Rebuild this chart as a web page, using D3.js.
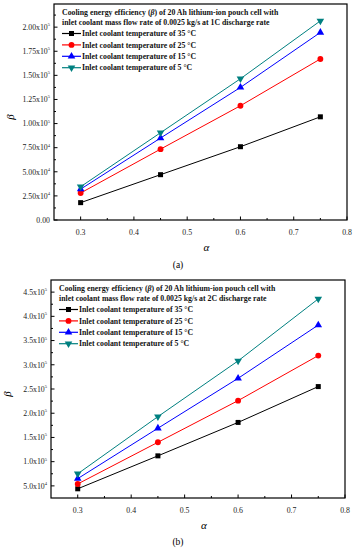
<!DOCTYPE html>
<html>
<head>
<meta charset="utf-8">
<script src="https://d3js.org/d3.v7.min.js"></script>
<style>
  body { margin: 0; background: #fff; }
  svg { display: block; font-family: "Liberation Serif", "DejaVu Serif", serif; }
  .tick-label { font-size: 7.8px; fill: #222; }
  .legend-text { font-size: 7.8px; font-weight: bold; fill: #111; }
</style>
</head>
<body>
<svg id="chart" width="357" height="550"></svg>
<script>
// x values (alpha)
var alpha = [0.3, 0.45, 0.6, 0.75];
var temps = [35, 25, 15, 5];
var colors = ["#000000", "#ff0000", "#0000ff", "#008080"];
var symbols = [d3.symbolSquare, d3.symbolCircle, d3.symbolTriangle, d3.symbolTriangle];

// panel (a) 1C discharge rate
var beta1C_T35 = [18000, 47000, 76000, 107000];
var beta1C_T25 = [28000, 73500, 118500, 167000];
var beta1C_T15 = [32000, 85000, 137500, 194500];
var beta1C_T5 = [34500, 90500, 146500, 206500];

// panel (b) 2C discharge rate
var beta2C_T35 = [44000, 112000, 181000, 255000];
var beta2C_T25 = [54000, 140000, 226000, 319000];
var beta2C_T15 = [65000, 169000, 272000, 382000];
var beta2C_T5 = [75000, 193000, 308000, 436000];

var svg = d3.select("#chart");

function supFormat(v, digits) {
    if (v === 0) return { m: (0).toFixed(digits), e: null };
    var e = Math.floor(Math.log10(v) + 1e-9);
    var m = v / Math.pow(10, e);
    return { m: m.toFixed(digits) + "x10", e: e };
}

function markerSize(k) { return k === 1 ? 27 : 25; }

function drawPanel(p) {
    var g = svg.append("g");
    var x = d3.scaleLinear().domain([0.25, 0.8]).range([p.left, p.right]);
    var y = d3.scaleLinear().domain(p.yDomain).range([p.bottom, p.top]);

    // x ticks (inward)
    var xMajor = d3.range(0.3, 0.801, 0.1);
    var xMinor = d3.range(0.35, 0.8, 0.1);
    g.selectAll(".xmaj").data(xMajor).enter().append("line")
        .attr("x1", d => x(d)).attr("x2", d => x(d))
        .attr("y1", p.bottom).attr("y2", p.bottom - 3.5)
        .attr("stroke", "#000").attr("stroke-width", 1);
    g.selectAll(".xmin").data(xMinor).enter().append("line")
        .attr("x1", d => x(d)).attr("x2", d => x(d))
        .attr("y1", p.bottom).attr("y2", p.bottom - 2)
        .attr("stroke", "#000").attr("stroke-width", 1);
    g.selectAll(".xlab").data(xMajor).enter().append("text")
        .attr("class", "tick-label")
        .attr("x", d => x(d)).attr("y", p.bottom + 15)
        .attr("text-anchor", "middle")
        .text(d => d.toFixed(1));

    // y ticks
    g.selectAll(".ymaj").data(p.yMajor).enter().append("line")
        .attr("x1", p.left).attr("x2", p.left + 3.5)
        .attr("y1", d => y(d)).attr("y2", d => y(d))
        .attr("stroke", "#000").attr("stroke-width", 1);
    g.selectAll(".ymin").data(p.yMinor).enter().append("line")
        .attr("x1", p.left).attr("x2", p.left + 2)
        .attr("y1", d => y(d)).attr("y2", d => y(d))
        .attr("stroke", "#000").attr("stroke-width", 1);
    var ylab = g.selectAll(".ylab").data(p.yMajor).enter().append("text")
        .attr("class", "tick-label")
        .attr("x", p.left - 4).attr("y", d => y(d) + 2.8)
        .attr("text-anchor", "end");
    ylab.each(function(d) {
        var f = supFormat(d, p.digits);
        var t = d3.select(this);
        t.append("tspan").text(f.m);
        if (f.e !== null) {
            t.append("tspan").attr("dy", -3.8).attr("font-size", "4.5px").text(f.e);
        }
    });

    // frame
    g.append("rect")
        .attr("x", p.left).attr("y", p.top)
        .attr("width", p.right - p.left).attr("height", p.bottom - p.top)
        .attr("fill", "none").attr("stroke", "#000").attr("stroke-width", 1.2);

    // series
    var line = d3.line().x((d, i) => x(alpha[i])).y(d => y(d));
    p.series.forEach(function(s, k) {
        g.append("path").datum(s)
            .attr("d", line)
            .attr("fill", "none").attr("stroke", colors[k]).attr("stroke-width", 1);
        g.selectAll(".m" + k).data(s).enter().append("path")
            .attr("d", d3.symbol().type(symbols[k]).size(markerSize(k)))
            .attr("transform", (d, i) => "translate(" + x(alpha[i]) + "," + y(d) + ")" + (k === 3 ? " rotate(180)" : ""))
            .attr("fill", colors[k]);
    });

    // legend
    var lx = p.left + 8;
    var title1 = g.append("text").attr("class", "legend-text").attr("x", lx).attr("y", p.top + 11);
    title1.append("tspan").text("Cooling energy efficiency (");
    title1.append("tspan").attr("font-style", "italic").text("β");
    title1.append("tspan").text(") of 20 Ah lithium-ion pouch cell with");
    g.append("text").attr("class", "legend-text").attr("x", lx).attr("y", p.top + 20.5)
        .text("inlet coolant mass flow rate of 0.0025 kg/s at " + p.rate + " discharge rate");
    temps.forEach(function(t, k) {
        var ly = p.top + 29.5 + k * 11.4;
        g.append("line").attr("x1", lx).attr("x2", lx + 19)
            .attr("y1", ly).attr("y2", ly)
            .attr("stroke", colors[k]).attr("stroke-width", 1.2);
        g.append("path")
            .attr("d", d3.symbol().type(symbols[k]).size(markerSize(k)))
            .attr("transform", "translate(" + (lx + 9.5) + "," + ly + ")" + (k === 3 ? " rotate(180)" : ""))
            .attr("fill", colors[k]);
        g.append("text").attr("class", "legend-text")
            .attr("x", lx + 20).attr("y", ly + 2.7)
            .text("Inlet coolant temperature of " + t + " °C");
    });

    // axis titles
    g.append("text")
        .attr("transform", "translate(" + (p.left - 40) + "," + ((p.top + p.bottom) / 2 + 5) + ") rotate(-90)")
        .attr("text-anchor", "middle")
        .attr("font-style", "italic").attr("font-size", "11px")
        .text("β");
    g.append("text")
        .attr("x", (p.left + p.right) / 2 + 6).attr("y", p.bottom + 31)
        .attr("text-anchor", "middle")
        .attr("font-style", "italic").attr("font-size", "11px")
        .text("α");
    g.append("text")
        .attr("x", 178).attr("y", p.labelY)
        .attr("text-anchor", "middle").attr("font-size", "9.5px")
        .text(p.label);
}

drawPanel({
    left: 54, right: 347, top: 4, bottom: 220,
    yDomain: [0, 224000],
    yMajor: d3.range(0, 200001, 25000),
    yMinor: d3.range(12500, 224000, 25000),
    digits: 2,
    rate: "1C",
    series: [beta1C_T35, beta1C_T25, beta1C_T15, beta1C_T5],
    label: "(a)", labelY: 268
});

drawPanel({
    left: 51, right: 345, top: 280, bottom: 498,
    yDomain: [25000, 475000],
    yMajor: d3.range(50000, 450001, 50000),
    yMinor: d3.range(75000, 475000, 50000),
    digits: 1,
    rate: "2C",
    series: [beta2C_T35, beta2C_T25, beta2C_T15, beta2C_T5],
    label: "(b)", labelY: 545
});
</script>
</body>
</html>
